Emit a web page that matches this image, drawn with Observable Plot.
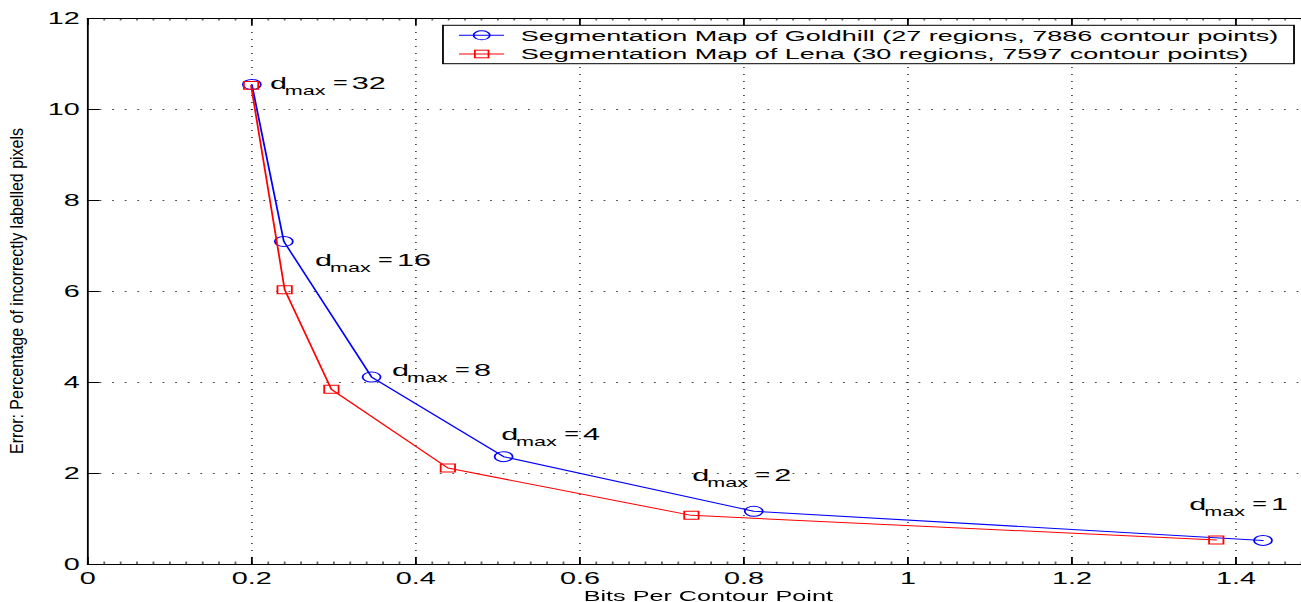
<!DOCTYPE html>
<html>
<head>
<meta charset="utf-8">
<script src="https://cdn.jsdelivr.net/npm/d3@7"></script>
<script src="https://cdn.jsdelivr.net/npm/@observablehq/plot@0.6"></script>
<style>
  html, body { margin: 0; padding: 0; background: #fff; overflow: hidden; }
  #wrap { width: 1301px; height: 602px; overflow: hidden; position: relative; background: #fff; }
  #chart { position: absolute; left: 0; top: 0; transform: scaleX(1.8); transform-origin: 0 0; }
</style>
</head>
<body>
<div id="wrap"><div id="chart"></div></div>
<script>
// ---- data ----
const goldhillBits  = [0.200, 0.239, 0.346, 0.507, 0.812, 1.433];
const goldhillError = [10.55, 7.10, 4.12, 2.37, 1.17, 0.53];
const lenaBits      = [0.199, 0.240, 0.297, 0.439, 0.736, 1.376];
const lenaError     = [10.53, 6.04, 3.85, 2.12, 1.08, 0.54];

const dmaxValues = [32, 16, 8, 4, 2, 1];
const dmaxLabelBits  = [0.222, 0.277, 0.371, 0.504, 0.737, 1.343];
const dmaxLabelError = [10.46, 6.57, 4.15, 2.73, 1.83, 1.20];

const xTicks = [0, 0.2, 0.4, 0.6, 0.8, 1, 1.2, 1.4];
const yTicks = [0, 2, 4, 6, 8, 10, 12];
const xMinorTicks = d3.range(0, 1.5001, 0.02);

const seriesNames = [
  "Segmentation Map of Goldhill (27 regions, 7886 contour points)",
  "Segmentation Map of Lena (30 regions, 7597 contour points)"
];
const seriesColors = ["#0000ff", "#ff0000"];
const xLabel = "Bits Per Contour Point";
const yLabel = "Error: Percentage of incorrectly labelled pixels";

// ---- layout ----
const W = 732, H = 602, ML = 48.3, MR = 0.3, MT = 18, MB = 38;
const frameW = W - ML - MR, frameH = H - MT - MB;
const FONT = "'Liberation Sans', Arial, Helvetica, sans-serif";

const goldhill = goldhillBits.map((x, i) => ({x, y: goldhillError[i]}));
const lena = lenaBits.map((x, i) => ({x, y: lenaError[i]}));
const annot = dmaxValues.map((d, i) => ({x: dmaxLabelBits[i], y: dmaxLabelError[i], d}));

function legendMark(index, scales, values, dims) {
  const g = d3.create("svg:g");
  const right = dims.width - dims.marginRight - 12.8;
  const left = right - 472.8, top = dims.marginTop + 7.3, h = 38.4;
  g.append("rect").attr("x", left).attr("y", top).attr("width", right - left).attr("height", h)
    .attr("fill", "#fff").attr("stroke", "#000").attr("stroke-width", 1);
  seriesNames.forEach((name, i) => {
    const cy = top + 10 + i * 18.7;
    const c = seriesColors[i];
    g.append("line").attr("x1", left + 8.9).attr("x2", left + 33.9).attr("y1", cy).attr("y2", cy)
      .attr("stroke", c).attr("stroke-width", 1);
    if (i === 0) {
      g.append("circle").attr("cx", left + 21.5).attr("cy", cy).attr("r", 4.5)
        .attr("fill", "none").attr("stroke", c);
    } else {
      g.append("rect").attr("x", left + 21.5 - 3.8).attr("y", cy - 3.8).attr("width", 7.6).attr("height", 7.6)
        .attr("fill", "none").attr("stroke", c);
    }
    g.append("text").attr("x", left + 43.2).attr("y", cy).attr("dy", "0.35em")
      .attr("text-anchor", "start")
      .attr("font-size", 15).attr("fill", "#000").text(name);
  });
  return g.node();
}

const plot = Plot.plot({
  width: W, height: H,
  marginLeft: ML, marginRight: MR, marginTop: MT, marginBottom: MB,
  style: {fontFamily: FONT, fontSize: "15px", color: "#000", background: "#fff", overflow: "visible"},
  x: {domain: [0, 1.5], axis: null},
  y: {domain: [0, 12], axis: null},
  marks: [
    // dotted grid
    Plot.ruleX(xTicks.filter(d => d > 0), {stroke: "#000", strokeOpacity: 0.7, strokeDasharray: "1,6"}),
    Plot.ruleY(yTicks.filter(d => d > 0 && d < 12), {stroke: "#000", strokeOpacity: 0.7, strokeDasharray: "1,6"}),
    // minor ticks (top and bottom, inward)
    Plot.ruleX(xMinorTicks, {stroke: "#000", strokeOpacity: 0.6, insetTop: frameH - 2.5}),
    Plot.ruleX(xMinorTicks, {stroke: "#000", strokeOpacity: 0.6, insetBottom: frameH - 2.5}),
    // major ticks (inward)
    Plot.ruleX(xTicks, {stroke: "#000", insetTop: frameH - 7}),
    Plot.ruleX(xTicks, {stroke: "#000", insetBottom: frameH - 7}),
    Plot.ruleY(yTicks, {stroke: "#000", insetRight: frameW - 7}),
    Plot.frame({stroke: "#000", strokeWidth: 1}),
    // tick labels
    Plot.text(xTicks, {x: d => d, frameAnchor: "bottom", text: d => String(d), lineAnchor: "top", dy: 8, fontSize: 16, fill: "#000"}),
    Plot.text(yTicks, {y: d => d, frameAnchor: "left", text: d => String(d), textAnchor: "end", dx: -4.5, fontSize: 16, fill: "#000"}),
    // series
    Plot.line(goldhill, {x: "x", y: "y", stroke: seriesColors[0], strokeWidth: 1}),
    Plot.dot(goldhill, {x: "x", y: "y", r: 5, stroke: seriesColors[0], fill: "none", strokeWidth: 1}),
    Plot.line(lena, {x: "x", y: "y", stroke: seriesColors[1], strokeWidth: 1}),
    Plot.dot(lena, {x: "x", y: "y", symbol: "square", r: 4.5, stroke: seriesColors[1], fill: "none", strokeWidth: 1}),
    // d_max annotations
    Plot.text(annot, {x: "x", y: "y", text: () => "d", textAnchor: "start", lineAnchor: "bottom", fontSize: 17, fill: "#000"}),
    Plot.text(annot, {x: "x", y: "y", text: () => "max", textAnchor: "start", lineAnchor: "bottom", dx: 8.3, dy: 6, fontSize: 12, fill: "#000"}),
    Plot.text(annot, {x: "x", y: "y", text: () => "=", textAnchor: "start", lineAnchor: "bottom", dx: 35, dy: -1, fontSize: 14, fill: "#000"}),
    Plot.text(annot, {x: "x", y: "y", text: d => String(d.d), textAnchor: "start", lineAnchor: "bottom", dx: 45.5, fontSize: 17, fill: "#000"}),
    // x label
    Plot.text([xLabel], {frameAnchor: "bottom", text: d => d, lineAnchor: "bottom", dx: 3, dy: 36, fontSize: 14, fill: "#000"}),
    // legend
    legendMark
  ]
});

// y label: rotated, condensed across its glyph height as in the reference
d3.select(plot).append("text")
  .attr("transform", `translate(9.4,${MT + frameH / 2}) rotate(-90) scale(1,0.62)`)
  .attr("text-anchor", "middle").attr("dy", "0.35em")
  .attr("font-size", 16).attr("font-family", FONT).attr("fill", "#000")
  .text(yLabel);

document.getElementById("chart").appendChild(plot);
</script>
</body>
</html>
